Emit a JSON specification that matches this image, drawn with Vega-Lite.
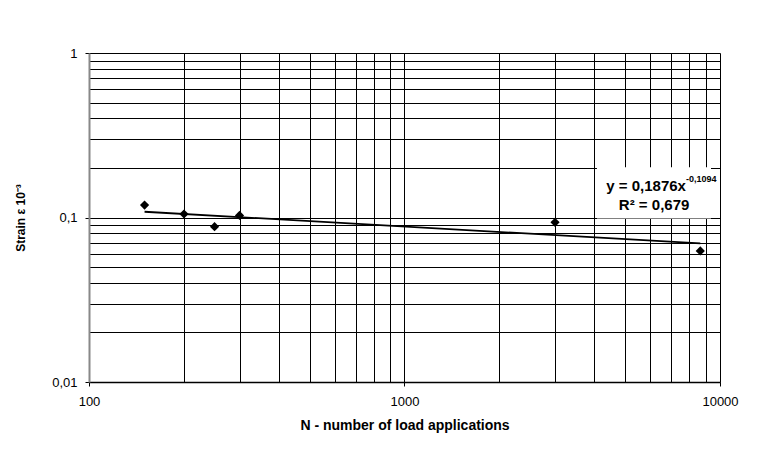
{
  "$schema": "https://vega.github.io/schema/vega-lite/v6.json",
  "width": 631,
  "height": 329,
  "autosize": {"type": "none"},
  "padding": {"left": 89, "top": 53, "right": 57, "bottom": 67},
  "background": "white",
  "config": {"view": {"stroke": null}, "font": "Liberation Sans"},
  "layer": [
    {
      "data": {"values": [
        {"N": 150, "strain": 0.119},
        {"N": 200, "strain": 0.105},
        {"N": 250, "strain": 0.088},
        {"N": 300, "strain": 0.103},
        {"N": 3000, "strain": 0.0935},
        {"N": 8660, "strain": 0.0626}
      ]},
      "mark": {"type": "point", "shape": "diamond", "filled": true, "color": "black", "size": 85, "opacity": 1},
      "encoding": {
        "x": {
          "field": "N", "type": "quantitative",
          "scale": {"type": "log", "domain": [100, 10000]},
          "axis": {
            "values": [100, 200, 300, 400, 500, 600, 700, 800, 900, 1000, 2000, 3000, 4000, 5000, 6000, 7000, 8000, 9000, 10000],
            "format": "d",
            "labelExpr": "datum.value == 100 || datum.value == 1000 || datum.value == 10000 ? datum.label : ''",
            "labelOverlap": false,
            "labelFlush": false,
            "labelBound": false,
            "labelFont": "Liberation Sans",
            "labelFontSize": 13,
            "labelColor": "#000",
            "labelPadding": 9,
            "tickSize": 4,
            "tickColor": "#000",
            "tickOpacity": {"condition": {"test": "datum.value == 100 || datum.value == 1000 || datum.value == 10000", "value": 1}, "value": 0},
            "grid": true,
            "gridColor": "#000",
            "gridWidth": 1,
            "gridOpacity": 1,
            "domainColor": "#000",
            "domainWidth": 1.5,
            "title": "N - number of load applications",
            "titleFont": "Liberation Sans",
            "titleFontSize": 14,
            "titleFontWeight": "bold",
            "titleColor": "#000",
            "titlePadding": 10
          }
        },
        "y": {
          "field": "strain", "type": "quantitative",
          "scale": {"type": "log", "domain": [0.01, 1]},
          "axis": {
            "values": [0.01, 0.02, 0.03, 0.04, 0.05, 0.06, 0.07, 0.08, 0.09, 0.1, 0.2, 0.3, 0.4, 0.5, 0.6, 0.7, 0.8, 0.9, 1],
            "labelExpr": "datum.value == 1 ? '1' : datum.value == 0.1 ? '0,1' : datum.value == 0.01 ? '0,01' : ''",
            "labelOverlap": false,
            "labelFlush": false,
            "labelBound": false,
            "labelFont": "Liberation Sans",
            "labelFontSize": 13,
            "labelColor": "#000",
            "labelPadding": 8,
            "tickSize": 4,
            "tickColor": "#000",
            "tickOpacity": {"condition": {"test": "datum.value == 1 || datum.value == 0.1 || datum.value == 0.01", "value": 1}, "value": 0},
            "grid": true,
            "gridColor": "#000",
            "gridWidth": 1,
            "gridOpacity": 1,
            "domainColor": "#888",
            "domainWidth": 2,
            "title": "Strain ε 10⁻³",
            "titleFont": "Liberation Sans",
            "titleFontSize": 12,
            "titleFontWeight": "bold",
            "titleColor": "#000",
            "titlePadding": 24
          }
        }
      }
    },
    {
      "data": {"values": [
        {"N": 150, "fit": 0.1084},
        {"N": 8660, "fit": 0.0696}
      ]},
      "mark": {"type": "line", "color": "black", "strokeWidth": 1.8},
      "encoding": {
        "x": {"field": "N", "type": "quantitative"},
        "y": {"field": "fit", "type": "quantitative"}
      }
    },
    {
      "data": {"values": [{"eq": "y = 0,1876x", "exp": "-0,1094", "r2": "R² = 0,679"}]},
      "layer": [
        {
          "mark": {"type": "rect", "color": "white", "opacity": 1},
          "encoding": {
            "x": {"datum": 4074, "type": "quantitative"},
            "x2": {"datum": 9365},
            "y": {"datum": 0.0985, "type": "quantitative"},
            "y2": {"datum": 0.202}
          }
        },
        {
          "mark": {"type": "text", "align": "right", "baseline": "alphabetic", "font": "Liberation Sans", "fontSize": 15, "fontWeight": "bold", "color": "black"},
          "encoding": {
            "x": {"datum": 7798, "type": "quantitative"},
            "y": {"datum": 0.1459, "type": "quantitative"},
            "text": {"field": "eq"}
          }
        },
        {
          "mark": {"type": "text", "align": "left", "baseline": "alphabetic", "font": "Liberation Sans", "fontSize": 9, "fontWeight": "bold", "color": "black", "dy": -9},
          "encoding": {
            "x": {"datum": 7798, "type": "quantitative"},
            "y": {"datum": 0.1459, "type": "quantitative"},
            "text": {"field": "exp"}
          }
        },
        {
          "mark": {"type": "text", "align": "center", "baseline": "alphabetic", "font": "Liberation Sans", "fontSize": 15, "fontWeight": "bold", "color": "black"},
          "encoding": {
            "x": {"datum": 6182, "type": "quantitative"},
            "y": {"datum": 0.1103, "type": "quantitative"},
            "text": {"field": "r2"}
          }
        }
      ]
    }
  ]
}
